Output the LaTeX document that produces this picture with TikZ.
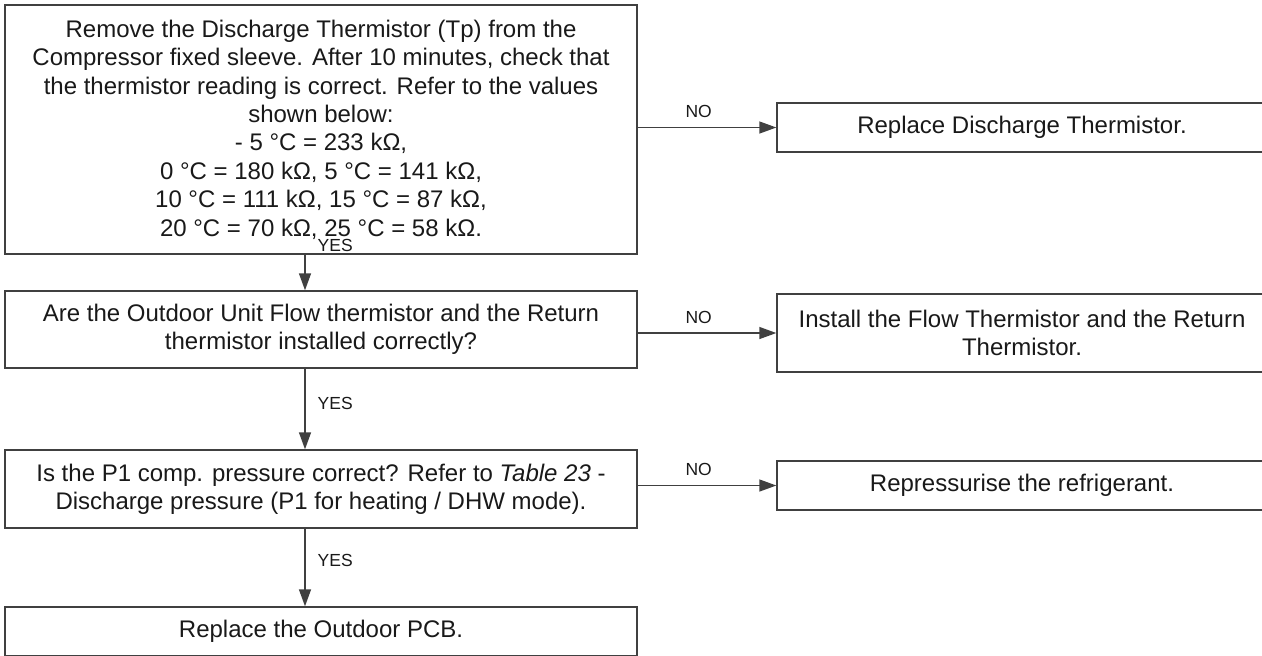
\documentclass[tikz,border=0pt]{standalone}
\usepackage{fontspec}
\setmainfont{Liberation Sans}
\usetikzlibrary{positioning, arrows.meta, calc}

\tikzset{
  stepbox/.style={draw=black!75, line width=0.7pt, inner sep=0pt, align=center, text=black!90,
    font=\fontsize{12}{14.2}\selectfont, minimum width=316pt},
  fixbox/.style={stepbox, minimum width=245pt},
  flow/.style={draw=black!75, line width=0.7pt, -{Triangle[length=8.5pt, width=6pt]}},
  lbl/.style={font=\fontsize{8.75}{10}\selectfont, text=black!90, inner sep=0pt}
}

\begin{document}
\begin{tikzpicture}[x=0.5pt, y=-0.5pt]
  \useasboundingbox (0,0) rectangle (1262,655);
  \clip (0,0) rectangle (1262,655);

  % checks down the left
  \node[stepbox, minimum height=124.5pt] (tp) at (321,129.5) {Remove the Discharge Thermistor (Tp) from the\\
    Compressor fixed sleeve. After 10 minutes, check that\\
    the thermistor reading is correct. Refer to the values\\
    shown below:\\
    - 5 °C = 233 kΩ,\\
    0 °C = 180 kΩ, 5 °C = 141 kΩ,\\
    10 °C = 111 kΩ, 15 °C = 87 kΩ,\\
    20 °C = 70 kΩ, 25 °C = 58 kΩ.};
  \node[stepbox, minimum height=38.5pt] (ntc) at (321,329.5) {Are the Outdoor Unit Flow thermistor and the Return\\
    thermistor installed correctly?};
  \node[stepbox, minimum height=39pt] (pone) at (321,489) {Is the P1 comp. pressure correct? Refer to \textit{Table 23} -\\
    Discharge pressure (P1 for heating / DHW mode).};
  \node[stepbox, minimum height=24.5pt] (pcb) at (321,631.5) {Replace the Outdoor PCB.};

  % actions on the right
  \node[fixbox, minimum height=24.5pt] (fixtp) at (1022,127.5) {Replace Discharge Thermistor.};
  \node[fixbox, minimum height=39pt] (fixntc) at (1022,333) {Install the Flow Thermistor and the Return\\
    Thermistor.};
  \node[fixbox, minimum height=24.5pt] (fixpone) at (1022,485.5) {Repressurise the refrigerant.};

  \coordinate (spine) at (305,0);

  % yes path
  \draw[flow] (spine |- tp.south) -- node[lbl, right=6pt, pos=-0.27] {YES} (spine |- ntc.north);
  \draw[flow] (spine |- ntc.south) -- node[lbl, right=6pt, pos=0.43] {YES} (spine |- pone.north);
  \draw[flow] (spine |- pone.south) -- node[lbl, right=6pt, pos=0.41] {YES} (spine |- pcb.north);

  % no path
  \draw[flow] (tp.east |- fixtp.west) -- node[lbl, above=4.5pt, pos=0.44] {NO} (fixtp.west);
  \draw[flow] (ntc.east |- fixntc.west) -- node[lbl, above=4.5pt, pos=0.44] {NO} (fixntc.west);
  \draw[flow] (pone.east |- fixpone.west) -- node[lbl, above=4.5pt, pos=0.44] {NO} (fixpone.west);
\end{tikzpicture}
\end{document}
